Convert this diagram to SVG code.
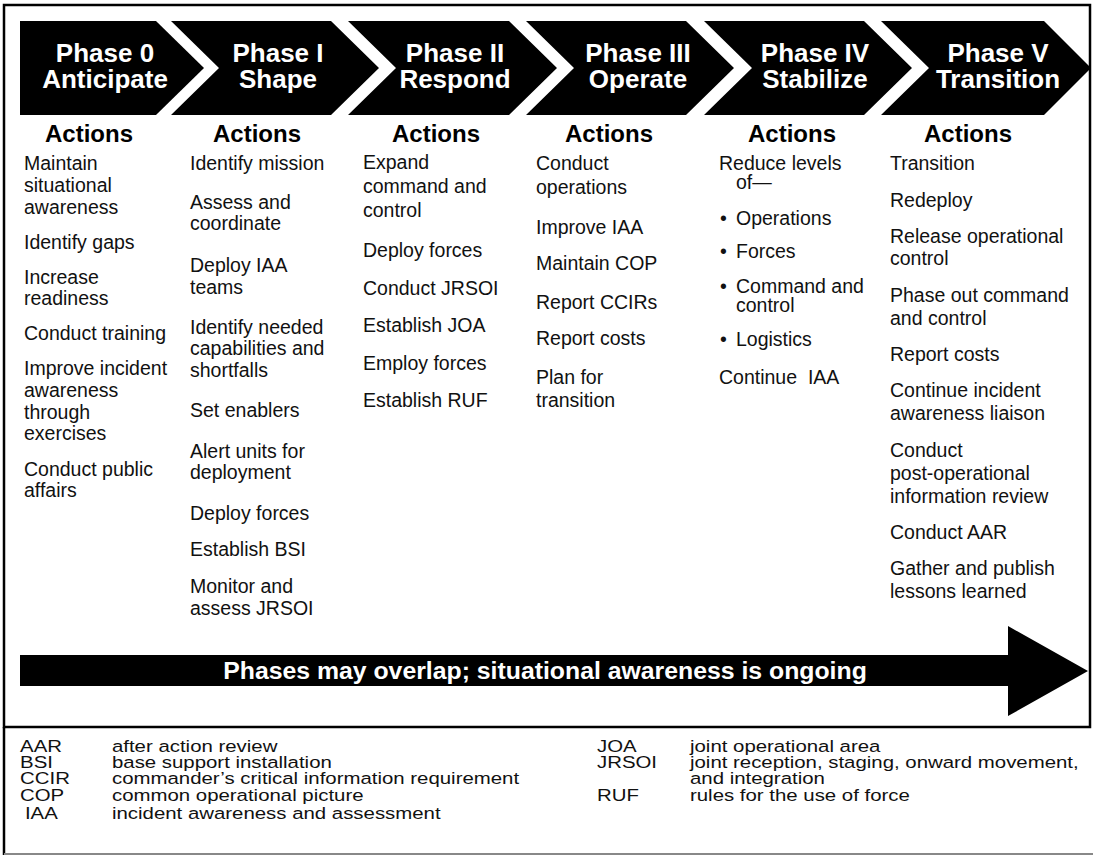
<svg xmlns="http://www.w3.org/2000/svg" width="1093" height="856" viewBox="0 0 1093 856">
<style>
  text { font-family: "Liberation Sans", Arial, Helvetica, sans-serif; }
  .chev { fill: #000; }
  .ph { fill: #fff; font-weight: bold; font-size: 26px; text-anchor: middle; }
  .act { fill: #000; font-weight: bold; font-size: 24px; text-anchor: middle; }
  .b { fill: #111; font-size: 19.5px; }
  .ov { fill: #fff; font-weight: bold; font-size: 24.8px; text-anchor: middle; }
  .lg { fill: #111; font-size: 17px; }
</style>
<rect width="1093" height="856" fill="#fff"/>
<g id="frame">
  <rect x="4" y="5" width="1086" height="722" fill="none" stroke="#000" stroke-width="2.5"/>
  <line x1="4" y1="727" x2="4" y2="855" stroke="#000" stroke-width="2.5"/>
  <line x1="4" y1="854" x2="1093" y2="854" stroke="#888" stroke-width="2"/>
</g>

<g id="phase0">
  <path class="chev" d="M20,21 H156 L204,68 L156,115 H20 Z"/>
  <text class="ph" x="105" y="62">Phase 0</text>
  <text class="ph" x="105" y="88">Anticipate</text>
</g>
<g id="phase1">
  <path class="chev" d="M171,21 H331 L379,68 L331,115 H171 L219,68 Z"/>
  <text class="ph" x="278" y="62">Phase I</text>
  <text class="ph" x="278" y="88">Shape</text>
</g>
<g id="phase2">
  <path class="chev" d="M348,21 H509 L557,68 L509,115 H348 L396,68 Z"/>
  <text class="ph" x="455" y="62">Phase II</text>
  <text class="ph" x="455" y="88">Respond</text>
</g>
<g id="phase3">
  <path class="chev" d="M526,21 H686 L734,68 L686,115 H526 L574,68 Z"/>
  <text class="ph" x="638" y="62">Phase III</text>
  <text class="ph" x="638" y="88">Operate</text>
</g>
<g id="phase4">
  <path class="chev" d="M704,21 H864 L912,68 L864,115 H704 L752,68 Z"/>
  <text class="ph" x="815" y="62">Phase IV</text>
  <text class="ph" x="815" y="88">Stabilize</text>
</g>
<g id="phase5">
  <path class="chev" d="M881,21 H1044 L1091,68 L1044,115 H881 L929,68 Z"/>
  <text class="ph" x="998" y="62">Phase V</text>
  <text class="ph" x="998" y="88">Transition</text>
</g>

<g id="actions0">
  <text class="act" x="89" y="142">Actions</text>
  <text class="b" x="24" y="170">Maintain</text>
  <text class="b" x="24" y="192">situational</text>
  <text class="b" x="24" y="214">awareness</text>
  <text class="b" x="24" y="249">Identify gaps</text>
  <text class="b" x="24" y="284">Increase</text>
  <text class="b" x="24" y="305">readiness</text>
  <text class="b" x="24" y="340">Conduct training</text>
  <text class="b" x="24" y="375">Improve incident</text>
  <text class="b" x="24" y="397">awareness</text>
  <text class="b" x="24" y="419">through</text>
  <text class="b" x="24" y="440">exercises</text>
  <text class="b" x="24" y="476">Conduct public</text>
  <text class="b" x="24" y="497">affairs</text>
</g>
<g id="actions1">
  <text class="act" x="257" y="142">Actions</text>
  <text class="b" x="190" y="170">Identify mission</text>
  <text class="b" x="190" y="209">Assess and</text>
  <text class="b" x="190" y="230">coordinate</text>
  <text class="b" x="190" y="272">Deploy IAA</text>
  <text class="b" x="190" y="294">teams</text>
  <text class="b" x="190" y="334">Identify needed</text>
  <text class="b" x="190" y="355">capabilities and</text>
  <text class="b" x="190" y="377">shortfalls</text>
  <text class="b" x="190" y="417">Set enablers</text>
  <text class="b" x="190" y="458">Alert units for</text>
  <text class="b" x="190" y="479">deployment</text>
  <text class="b" x="190" y="520">Deploy forces</text>
  <text class="b" x="190" y="556">Establish BSI</text>
  <text class="b" x="190" y="593">Monitor and</text>
  <text class="b" x="190" y="615">assess JRSOI</text>
</g>
<g id="actions2">
  <text class="act" x="436" y="142">Actions</text>
  <text class="b" x="363" y="169">Expand</text>
  <text class="b" x="363" y="193">command and</text>
  <text class="b" x="363" y="217">control</text>
  <text class="b" x="363" y="257">Deploy forces</text>
  <text class="b" x="363" y="295">Conduct JRSOI</text>
  <text class="b" x="363" y="332">Establish JOA</text>
  <text class="b" x="363" y="370">Employ forces</text>
  <text class="b" x="363" y="407">Establish RUF</text>
</g>
<g id="actions3">
  <text class="act" x="609" y="142">Actions</text>
  <text class="b" x="536" y="170">Conduct</text>
  <text class="b" x="536" y="194">operations</text>
  <text class="b" x="536" y="234">Improve IAA</text>
  <text class="b" x="536" y="270">Maintain COP</text>
  <text class="b" x="536" y="309">Report CCIRs</text>
  <text class="b" x="536" y="345">Report costs</text>
  <text class="b" x="536" y="384">Plan for</text>
  <text class="b" x="536" y="407">transition</text>
</g>
<g id="actions4">
  <text class="act" x="792" y="142">Actions</text>
  <text class="b" x="719" y="170">Reduce levels</text>
  <text class="b" x="736" y="189">of—</text>
  <text class="b" x="720" y="225">•</text><text class="b" x="736" y="225">Operations</text>
  <text class="b" x="720" y="258">•</text><text class="b" x="736" y="258">Forces</text>
  <text class="b" x="720" y="293">•</text><text class="b" x="736" y="293">Command and</text>
  <text class="b" x="736" y="312">control</text>
  <text class="b" x="720" y="346">•</text><text class="b" x="736" y="346">Logistics</text>
  <text class="b" x="719" y="384" style="white-space:pre">Continue  IAA</text>
</g>
<g id="actions5">
  <text class="act" x="968" y="142">Actions</text>
  <text class="b" x="890" y="170">Transition</text>
  <text class="b" x="890" y="207">Redeploy</text>
  <text class="b" x="890" y="243">Release operational</text>
  <text class="b" x="890" y="265">control</text>
  <text class="b" x="890" y="302">Phase out command</text>
  <text class="b" x="890" y="325">and control</text>
  <text class="b" x="890" y="361">Report costs</text>
  <text class="b" x="890" y="397">Continue incident</text>
  <text class="b" x="890" y="420">awareness liaison</text>
  <text class="b" x="890" y="457">Conduct</text>
  <text class="b" x="890" y="480">post-operational</text>
  <text class="b" x="890" y="503">information review</text>
  <text class="b" x="890" y="539">Conduct AAR</text>
  <text class="b" x="890" y="575">Gather and publish</text>
  <text class="b" x="890" y="598">lessons learned</text>
</g>

<g id="overlap-arrow">
  <path fill="#000" d="M20,655 H1008 V626 L1088,671 L1008,716 V686 H20 Z"/>
  <text class="ov" x="545" y="679">Phases may overlap; situational awareness is ongoing</text>
</g>

<g id="connectors"></g>

<g id="legend" transform="scale(1.2,1)">
  <text class="lg" x="16.7" y="752">AAR</text><text class="lg" x="93.3" y="752">after action review</text>
  <text class="lg" x="16.7" y="768">BSI</text><text class="lg" x="93.3" y="768">base support installation</text>
  <text class="lg" x="16.7" y="784">CCIR</text><text class="lg" x="93.3" y="784">commander’s critical information requirement</text>
  <text class="lg" x="16.7" y="801">COP</text><text class="lg" x="93.3" y="801">common operational picture</text>
  <text class="lg" x="20.8" y="819">IAA</text><text class="lg" x="93.3" y="819">incident awareness and assessment</text>
  <text class="lg" x="497.5" y="752">JOA</text><text class="lg" x="575" y="752">joint operational area</text>
  <text class="lg" x="497.5" y="768">JRSOI</text><text class="lg" x="575" y="768">joint reception, staging, onward movement,</text>
  <text class="lg" x="575" y="784">and integration</text>
  <text class="lg" x="497.5" y="801">RUF</text><text class="lg" x="575" y="801">rules for the use of force</text>
</g>
</svg>
